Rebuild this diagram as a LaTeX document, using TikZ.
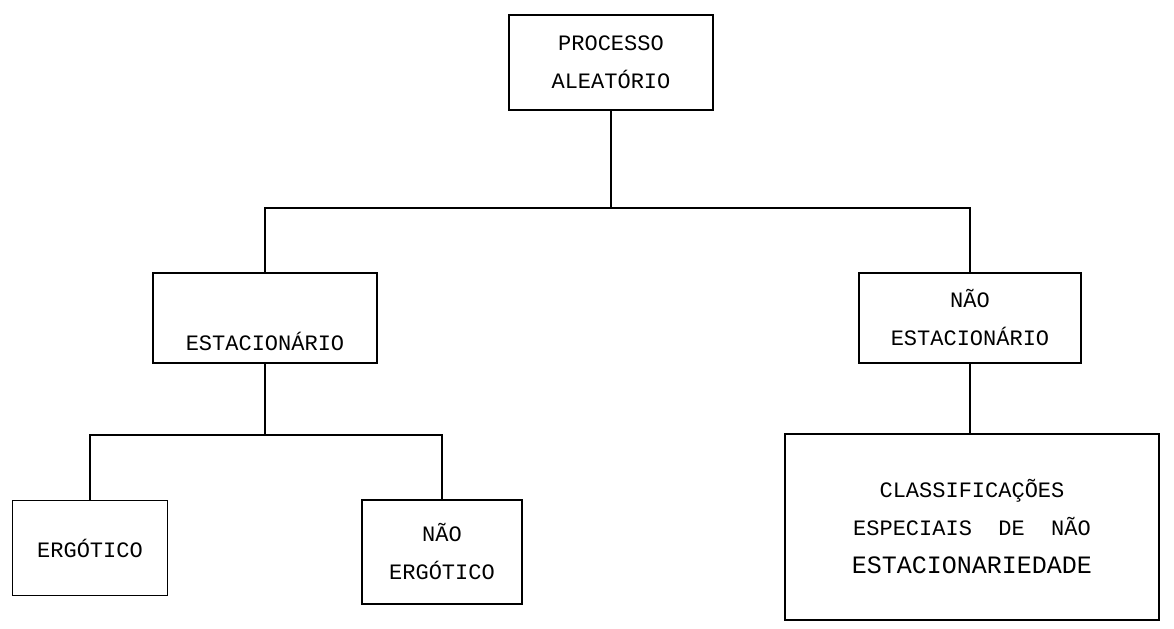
\documentclass[tikz,border=0pt]{standalone}
\usepackage{fontspec}
\setmonofont{Liberation Mono}
\usepackage{tikz}
\usetikzlibrary{positioning, calc}

\begin{document}
\begin{tikzpicture}[x=0.5pt, y=-0.5pt,
    box/.style={rectangle, draw, line width=0.9pt, inner sep=0pt, align=center,
                font=\ttfamily\fontsize{11}{19}\selectfont},
    link/.style={line width=0.9pt}]
    \useasboundingbox (0,0) rectangle (1174,628);

    % root
    \node[box, minimum width=102pt, minimum height=47.5pt] (proc) at (611,62.5) {PROCESSO\\ALEATÓRIO};

    % second level
    \node[box, minimum width=112pt, minimum height=45pt] (est) at (265,318) {\strut\\ESTACIONÁRIO};
    \node[box, minimum width=111pt, minimum height=45pt] (naoest) at (970,318) {NÃO\\ESTACIONÁRIO};

    % third level
    \node[box, minimum width=77.5pt, minimum height=47.5pt] (erg) at (90,548) {ERGÓTICO};
    \node[box, minimum width=80pt, minimum height=52pt] (naoerg) at (442,552) {NÃO\\ERGÓTICO};
    \node[box, minimum width=187pt, minimum height=93pt] (classif) at (972,527)
        {CLASSIFICAÇÕES\\ESPECIAIS~~DE~~NÃO\\{\fontsize{12.5}{19}\selectfont ESTACIONARIEDADE}};

    % connectors
    \draw[link] (proc.south) -- (proc.south |- 0,208);
    \draw[link] (est.north) |- (proc.south |- 0,208) -| (naoest.north);
    \draw[link] (est.south) -- (est.south |- 0,435);
    \draw[link] (erg.north) |- (est.south |- 0,435) -| (naoerg.north);
    \draw[link] (naoest.south) -- (naoest.south |- classif.north);
\end{tikzpicture}
\end{document}
